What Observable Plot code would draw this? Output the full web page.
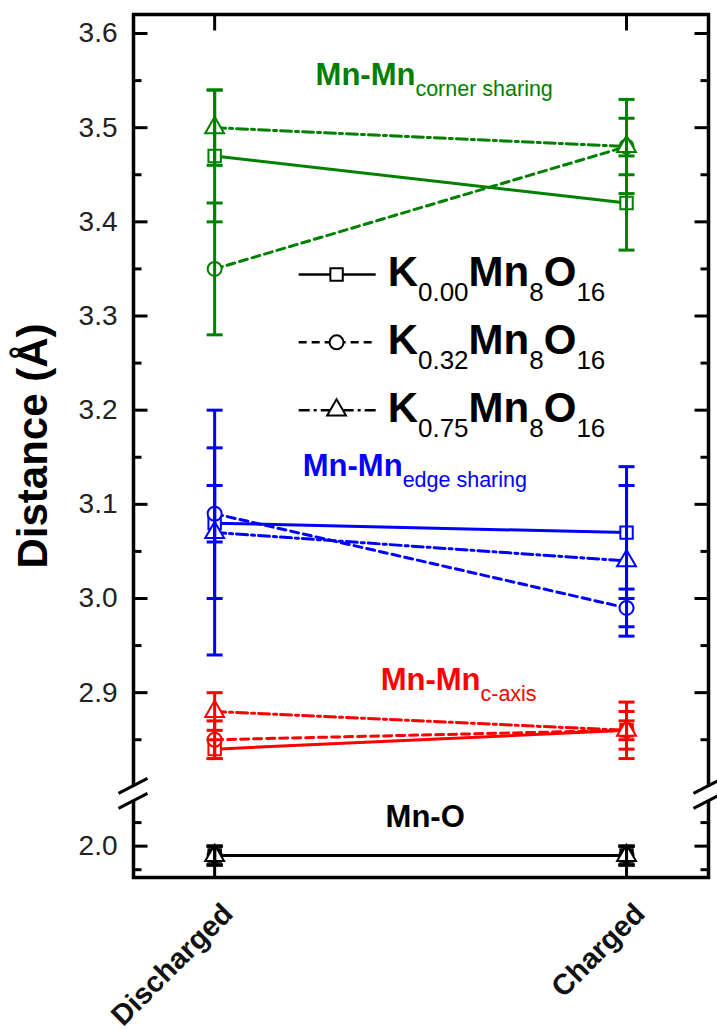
<!DOCTYPE html>
<html><head><meta charset="utf-8">
<script src="https://cdn.jsdelivr.net/npm/d3@7"></script>
<script src="https://cdn.jsdelivr.net/npm/@observablehq/plot@0.6"></script>
<style>
html,body{margin:0;padding:0;background:#fff;}
#chart svg{display:block;}
</style></head><body><div id="chart"></div>
<script>
// ---- categories ----
const states = ["Discharged", "Charged"];
const stateX = [0, 1];
const compounds = ["K_{0.00}Mn_{8}O_{16}", "K_{0.32}Mn_{8}O_{16}", "K_{0.75}Mn_{8}O_{16}"];
const compoundSymbols = ["square", "circle", "triangle"];
const compoundDash = [null, "8,5", "11,4,3,4"];
const groupNames = ["Mn-Mn_{corner sharing}", "Mn-Mn_{edge sharing}", "Mn-Mn_{c-axis}", "Mn-O"];
const groupColors = ["#008000", "#0000ff", "#ff0000", "#000000"];

// ---- values: [compound][state] ----
const cornerSharing    = [[3.47, 3.42], [3.35, 3.48], [3.50, 3.48]];
const cornerSharingErr = [[0.07, 0.05], [0.07, 0.03], [0.04, 0.05]];
const edgeSharing      = [[3.08, 3.07], [3.09, 2.99], [3.07, 3.04]];
const edgeSharingErr   = [[0.08, 0.07], [0.03, 0.02], [0.13, 0.08]];
const cAxis            = [[2.84, 2.86], [2.85, 2.86], [2.88, 2.86]];
const cAxisErr         = [[0.01, 0.02], [0.02, 0.03], [0.02, 0.01]];
const mnO              = [[1.99, 1.99], [1.99, 1.99], [1.99, 1.99]];
const mnOErr           = [[0.01, 0.01], [0.01, 0.01], [0.01, 0.01]];

// ---- ticks ----
const yMajorTicks  = [2.0, 2.9, 3.0, 3.1, 3.2, 3.3, 3.4, 3.5, 3.6];
const yMajorLabels = ["2.0", "2.9", "3.0", "3.1", "3.2", "3.3", "3.4", "3.5", "3.6"];
const yMinorTicks  = [1.975, 2.025, 2.85, 2.95, 3.05, 3.15, 3.25, 3.35, 3.45, 3.55];

// ---- annotation placement (data units) ----
const groupLabelX = [0.245, 0.214, 0.403, 0.415];
const groupLabelY = [3.545, 3.13, 2.903, 2.02];
const legendY = [3.344, 3.272, 3.200];
const legendLineX = [0.204, 0.391];
const legendMarkerX = 0.296;
const legendTextX = 0.420;

// ---- broken y axis ----
const BREAK_SPLIT = 2.5;      // values below are in the lower segment
const LOWER_OFFSET = 0.737;   // lower segment shift
const BREAK_AT = 2.793;       // break position (upper-segment units)
const sy = v => v < BREAK_SPLIT ? v + LOWER_OFFSET : v;
const X_DOMAIN = [-0.197, 1.199];
const Y_DOMAIN = [2.7037, 3.6202];

const groupValues = [cornerSharing, edgeSharing, cAxis, mnO];
const groupErrors = [cornerSharingErr, edgeSharingErr, cAxisErr, mnOErr];
const rows = [];
groupValues.forEach((gv, g) => gv.forEach((cv, c) => cv.forEach((v, s) => rows.push({
  group: g, compound: c, state: s, x: stateX[s], value: v, err: groupErrors[g][c][s], color: groupColors[g]
}))));
const caps = rows.flatMap(d => [
  {x: d.x, y: sy(d.value - d.err), color: d.color},
  {x: d.x, y: sy(d.value + d.err), color: d.color}
]);

const seg = (dx, dy) => ({draw(ctx) { ctx.moveTo(0, 0); ctx.lineTo(dx, dy); }});
const capSymbol = {draw(ctx) { ctx.moveTo(-8, 0); ctx.lineTo(8, 0); }};
const gapSymbol = {draw(ctx) { ctx.moveTo(-6, -7); ctx.lineTo(6, -7); ctx.lineTo(6, 7); ctx.lineTo(-6, 7); ctx.closePath(); }};
const slashSymbol = {draw(ctx) { ctx.moveTo(-15, 0); ctx.lineTo(14, -15); ctx.moveTo(-15, 15); ctx.lineTo(14, 0); }};

const marks = [Plot.frame({stroke: "#000", strokeWidth: 3.5})];

// connecting lines
compounds.forEach((name, c) => {
  const opts = {x: "x", y: d => sy(d.value), z: "group", stroke: "color", strokeWidth: 3};
  if (compoundDash[c]) opts.strokeDasharray = compoundDash[c];
  marks.push(Plot.line(rows.filter(d => d.compound === c), opts));
});
// markers
compounds.forEach((name, c) => {
  marks.push(Plot.dot(rows.filter(d => d.compound === c), {
    x: "x", y: d => sy(d.value), symbol: compoundSymbols[c], r: 7,
    stroke: "color", fill: "white", strokeWidth: 2
  }));
});
// error bars
marks.push(Plot.ruleX(rows, {x: "x", y1: d => sy(d.value - d.err), y2: d => sy(d.value + d.err), stroke: "color", strokeWidth: 3, clip: true}));
marks.push(Plot.dot(caps, {x: "x", y: "y", symbol: capSymbol, stroke: "color", fill: "none", strokeWidth: 3, clip: true}));

// axis ticks (inward)
marks.push(Plot.dot(yMajorTicks, {x: () => X_DOMAIN[0], y: d => sy(d), symbol: seg(14, 0), stroke: "#000", fill: "none", strokeWidth: 3}));
marks.push(Plot.dot(yMinorTicks, {x: () => X_DOMAIN[0], y: d => sy(d), symbol: seg(8, 0), stroke: "#000", fill: "none", strokeWidth: 3}));
marks.push(Plot.dot(yMajorTicks, {x: () => X_DOMAIN[1], y: d => sy(d), symbol: seg(-14, 0), stroke: "#000", fill: "none", strokeWidth: 3}));
marks.push(Plot.dot(yMinorTicks, {x: () => X_DOMAIN[1], y: d => sy(d), symbol: seg(-8, 0), stroke: "#000", fill: "none", strokeWidth: 3}));
marks.push(Plot.dot(stateX, {x: d => d, y: () => Y_DOMAIN[1], symbol: seg(0, 16), stroke: "#000", fill: "none", strokeWidth: 3}));
marks.push(Plot.dot(stateX, {x: d => d, y: () => Y_DOMAIN[0], symbol: seg(0, -16), stroke: "#000", fill: "none", strokeWidth: 3}));

// axis break
marks.push(Plot.dot(X_DOMAIN, {x: d => d, y: () => BREAK_AT, symbol: gapSymbol, fill: "white", stroke: "none"}));
marks.push(Plot.dot(X_DOMAIN, {x: d => d, y: () => BREAK_AT, symbol: slashSymbol, fill: "none", stroke: "#000", strokeWidth: 3}));

// tick labels
marks.push(Plot.text(yMajorTicks, {y: d => sy(d), frameAnchor: "left", text: (d, i) => yMajorLabels[i], dx: -16, textAnchor: "end", fontSize: 28, fill: "#222"}));
marks.push(Plot.text(states, {x: (d, i) => stateX[i], frameAnchor: "bottom", text: d => d, rotate: -45, textAnchor: "end", lineAnchor: "bottom", dx: 20, dy: 38, fontSize: 29, fontWeight: "bold", fill: "#111"}));
marks.push(Plot.text(["Distance (Å)"], {frameAnchor: "left", text: d => d, rotate: -90, textAnchor: "middle", lineAnchor: "middle", dx: -100, fontSize: 42, fontWeight: "bold", fill: "#000"}));

// group labels
marks.push(Plot.text(groupNames, {x: (d, i) => groupLabelX[i], y: (d, i) => sy(groupLabelY[i]), text: d => d, fill: (d, i) => groupColors[i], textAnchor: "start", lineAnchor: "bottom", fontSize: 31, fontWeight: "bold"}));

// legend
compounds.forEach((name, c) => {
  const lopts = {x1: () => legendLineX[0], x2: () => legendLineX[1], y1: () => legendY[c], y2: () => legendY[c], stroke: "#000", strokeWidth: 2.5};
  if (compoundDash[c]) lopts.strokeDasharray = compoundDash[c];
  marks.push(Plot.link([name], lopts));
  marks.push(Plot.dot([name], {x: () => legendMarkerX, y: () => legendY[c], symbol: compoundSymbols[c], r: 7, stroke: "#000", fill: "white", strokeWidth: 2}));
});
marks.push(Plot.text(compounds, {x: () => legendTextX, y: (d, i) => legendY[i], text: d => d, textAnchor: "start", lineAnchor: "middle", dy: -2, fontSize: 42, fontWeight: "bold", fill: "#000"}));

const chart = Plot.plot({
  width: 717, height: 1030,
  marginTop: 14, marginRight: 9, marginBottom: 153, marginLeft: 133,
  style: {fontFamily: "Arial, 'Liberation Sans', sans-serif", background: "#fff", overflow: "visible"},
  x: {domain: X_DOMAIN, axis: null},
  y: {domain: Y_DOMAIN, axis: null},
  color: {type: "identity"},
  marks
});

// turn "_{...}" into real subscript tspans
function subscriptify(t, subSize, shift) {
  const s = t.textContent;
  const parts = s.split(/(_\{[^}]*\})/).filter(p => p);
  while (t.firstChild) t.removeChild(t.firstChild);
  let down = false;
  for (const p of parts) {
    const ts = document.createElementNS("http://www.w3.org/2000/svg", "tspan");
    if (p.startsWith("_{")) {
      ts.textContent = p.slice(2, -1);
      ts.setAttribute("font-size", subSize);
      ts.setAttribute("font-weight", "normal");
      if (!down) { ts.setAttribute("dy", shift); down = true; }
    } else {
      ts.textContent = p;
      if (down) { ts.setAttribute("dy", -shift); down = false; }
    }
    t.appendChild(ts);
  }
}
chart.querySelectorAll("text").forEach(t => {
  const s = t.textContent;
  if (!s.includes("_{")) return;
  if (s.startsWith("K_")) subscriptify(t, 26, 15);
  else subscriptify(t, 21.5, 11);
});
document.getElementById("chart").appendChild(chart);
</script>
</body></html>
